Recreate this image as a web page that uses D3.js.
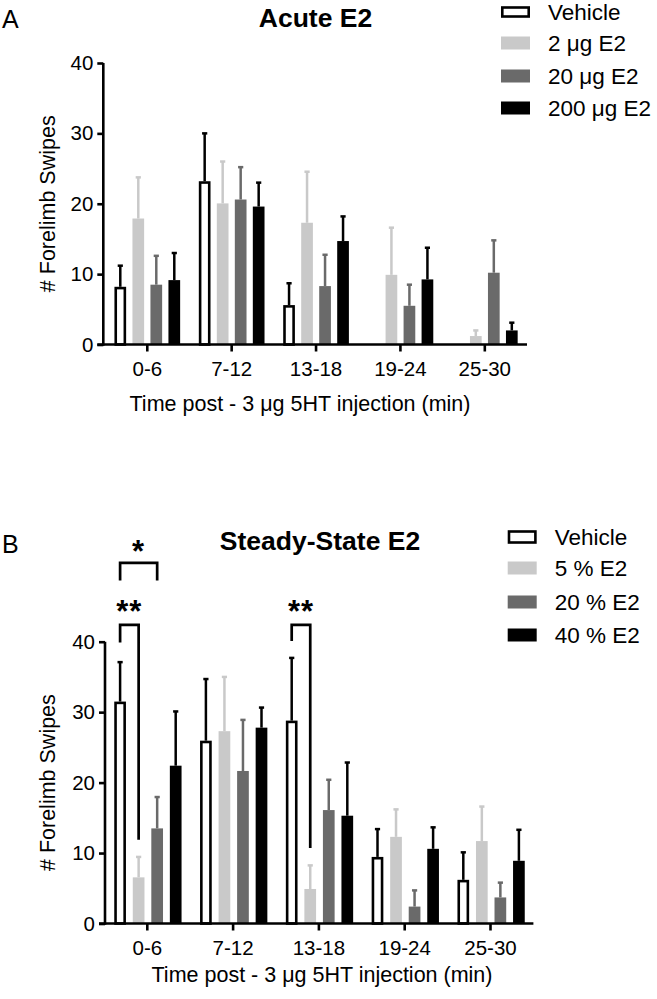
<!DOCTYPE html>
<html lang="en">
<head>
    <meta charset="UTF-8">
    <title>Forelimb Swipes - Acute and Steady-State E2</title>
    <script src="https://d3js.org/d3.v7.min.js"></script>
    <style>
        body {
            margin: 0;
            padding: 0;
            background-color: #fff;
        }

        svg {
            display: block;
            font-family: 'Liberation Sans', Arial, Helvetica, sans-serif;
        }

        .axis path,
        .axis line {
            stroke: #000;
            stroke-width: 2.6;
        }

        .axis text {
            font-size: 20.5px;
            fill: #000;
        }

        .title {
            font-size: 26.5px;
            font-weight: bold;
        }

        .axis-label {
            font-size: 21.5px;
        }

        .legend-text {
            font-size: 22.5px;
        }
    </style>
</head>
<body>
    <svg width="657" height="999"></svg>

    <script>
        // Data
        const timeBins = ["0-6", "7-12", "13-18", "19-24", "25-30"];
        const yTicks = [0, 10, 20, 30, 40];

        // Panel A - acute E2
        const acuteGroups = ["Vehicle", "2 \u03bcg E2", "20 \u03bcg E2", "200 \u03bcg E2"];
        const acuteMeans = [
            [8.2, 23.2, 5.6, 0, 0],
            [17.9, 20.05, 17.3, 9.9, 1.2],
            [8.5, 20.6, 8.3, 5.5, 10.2],
            [9.15, 19.6, 14.7, 9.25, 2.0]
        ];
        const acuteSem = [
            [3.0, 6.8, 3.1, 0, 0],
            [5.85, 5.95, 7.25, 6.7, 0.8],
            [4.1, 4.6, 4.45, 3.0, 4.6],
            [3.85, 3.4, 3.5, 4.5, 1.1]
        ];

        // Panel B - steady-state E2
        const steadyGroups = ["Vehicle", "5 % E2", "20 % E2", "40 % E2"];
        const steadyMeans = [
            [31.5, 25.95, 28.8, 9.45, 6.2],
            [6.55, 27.3, 4.9, 12.3, 11.7],
            [13.5, 21.65, 16.1, 2.4, 3.7],
            [22.4, 27.8, 15.3, 10.6, 8.9]
        ];
        const steadySem = [
            [5.6, 8.75, 8.9, 3.95, 3.9],
            [2.9, 7.7, 3.35, 3.9, 4.9],
            [4.45, 7.25, 4.3, 2.3, 2.1],
            [7.7, 2.85, 7.55, 3.05, 4.4]
        ];

        // Significance brackets: bin, groups joined, bracket level, leg ends (data units)
        const steadySig = [
            { bin: "0-6", from: 0, to: 2, level: 51.2, leftEnd: 48.7, rightEnd: 48.7, label: "*", labelAt: 53.4 },
            { bin: "0-6", from: 0, to: 1, level: 42.4, leftEnd: 39.9, rightEnd: 11.9, label: "**", labelAt: 44.9 },
            { bin: "13-18", from: 0, to: 1, level: 42.4, leftEnd: 40.1, rightEnd: 10.7, label: "**", labelAt: 44.9 }
        ];

        const fills = ["#fff", "#c9c9c9", "#6a6a6a", "#000"];
        const errColors = ["#000", "#c9c9c9", "#6a6a6a", "#000"];

        const svg = d3.select("svg");

        function drawPanel(p) {
            const g = svg.append("g");

            const y = d3.scaleLinear().domain([0, 40]).range([p.y0, p.y40]);
            const x0 = d3.scaleBand().domain(timeBins).range([p.xStart, p.xEnd]);
            const x1 = d3.scalePoint().domain(d3.range(p.groups.length)).range([-p.spread, p.spread]);
            const barW = 11.7;
            const sw = 2.6;

            const rows = timeBins.flatMap((bin, j) => p.groups.map((grp, i) => ({
                bin, i, v: p.means[i][j], e: p.sem[i][j],
                cx: x0(bin) + x0.bandwidth() / 2 + x1(i) + p.shift
            })));

            // error bars (upper only)
            const err = g.append("g").selectAll("g")
                .data(rows.filter(d => d.e > 0))
                .join("g")
                .attr("stroke", d => errColors[d.i])
                .attr("stroke-width", 2.5);
            err.append("line")
                .attr("x1", d => d.cx).attr("x2", d => d.cx)
                .attr("y1", d => y(d.v)).attr("y2", d => y(d.v + d.e));
            err.append("line")
                .attr("x1", d => d.cx - 2.6).attr("x2", d => d.cx + 2.6)
                .attr("y1", d => y(d.v + d.e)).attr("y2", d => y(d.v + d.e));

            // bars
            g.append("g").selectAll("rect")
                .data(rows.filter(d => d.v > 0))
                .join("rect")
                .attr("x", d => d.i === 0 ? d.cx - barW / 2 + sw / 2 : d.cx - barW / 2)
                .attr("width", d => d.i === 0 ? barW - sw : barW)
                .attr("y", d => d.i === 0 ? y(d.v) + sw / 2 : y(d.v))
                .attr("height", d => y(0) - y(d.v) - (d.i === 0 ? sw / 2 : 0))
                .attr("fill", d => fills[d.i])
                .attr("stroke", d => d.i === 0 ? "#000" : "none")
                .attr("stroke-width", sw);

            // y axis
            g.append("g")
                .attr("class", "axis")
                .attr("transform", `translate(${p.yAxisX},0)`)
                .call(d3.axisLeft(y).tickValues(yTicks).tickSize(6).tickPadding(4).tickSizeOuter(0))
                .call(a => a.select(".domain").attr("d", `M0,${y(0) + 1.3}V${y(40)}`));

            // x axis
            g.append("g")
                .attr("class", "axis")
                .attr("transform", `translate(0,${y(0)})`)
                .call(d3.axisBottom(x0).tickSize(7).tickPadding(10).tickSizeOuter(0))
                .call(a => a.select(".domain").attr("d", `M${p.yAxisX - 6},0H${p.xEnd}`));

            // axis titles
            g.append("text")
                .attr("class", "axis-label")
                .attr("transform", `translate(55,${(p.y0 + p.y40) / 2}) rotate(-90)`)
                .attr("text-anchor", "middle")
                .text("# Forelimb Swipes");

            g.append("text")
                .attr("class", "axis-label")
                .attr("x", p.xTitleX)
                .attr("y", p.xTitleY)
                .attr("text-anchor", "middle")
                .text("Time post - 3 \u03bcg 5HT injection (min)");

            // title and panel letter
            g.append("text")
                .attr("class", "title")
                .attr("x", p.titleX)
                .attr("y", p.titleY)
                .attr("text-anchor", "middle")
                .text(p.title);

            g.append("text")
                .attr("x", 2)
                .attr("y", p.letterY)
                .attr("font-size", "25px")
                .text(p.letter);

            // legend
            const leg = g.append("g").selectAll("g")
                .data(p.groups)
                .join("g")
                .attr("transform", (d, i) => `translate(${p.legendX},${p.legendY[i]})`);
            leg.append("rect")
                .attr("x", (d, i) => i === 0 ? 1.3 : 0)
                .attr("y", (d, i) => i === 0 ? -p.vehH / 2 : -6.5)
                .attr("width", (d, i) => i === 0 ? 26.4 : 29)
                .attr("height", (d, i) => i === 0 ? p.vehH : 13)
                .attr("fill", (d, i) => fills[i])
                .attr("stroke", (d, i) => i === 0 ? "#000" : "none")
                .attr("stroke-width", sw);
            leg.append("text")
                .attr("class", "legend-text")
                .attr("x", 47)
                .attr("y", 8)
                .text(d => d);

            // significance brackets
            if (p.sig) {
                const sg = g.append("g").selectAll("g")
                    .data(p.sig)
                    .join("g");
                const xl = d => x0(d.bin) + x0.bandwidth() / 2 + x1(d.from) + p.shift;
                const xr = d => x0(d.bin) + x0.bandwidth() / 2 + x1(d.to) + p.shift;
                sg.append("path")
                    .attr("fill", "none")
                    .attr("stroke", "#000")
                    .attr("stroke-width", 2.7)
                    .attr("d", d => `M${xl(d)},${y(d.leftEnd)}V${y(d.level)}H${xr(d)}V${y(d.rightEnd)}`);
                sg.append("text")
                    .attr("x", d => (xl(d) + xr(d)) / 2)
                    .attr("y", d => y(d.labelAt) + 15)
                    .attr("text-anchor", "middle")
                    .attr("font-size", "31px")
                    .attr("font-weight", "bold")
                    .attr("letter-spacing", "1px")
                    .text(d => d.label);
            }
        }

        drawPanel({
            groups: acuteGroups, means: acuteMeans, sem: acuteSem,
            y0: 344.5, y40: 63, xStart: 105.1, xEnd: 527, yAxisX: 103.3,
            spread: 27, shift: 0,
            title: "Acute E2", titleX: 315.5, titleY: 26.5,
            letter: "A", letterY: 28,
            xTitleX: 300, xTitleY: 411,
            legendX: 501, legendY: [12, 43, 76, 108], vehH: 9
        });

        drawPanel({
            groups: steadyGroups, means: steadyMeans, sem: steadySem, sig: steadySig,
            y0: 923.5, y40: 641.7, xStart: 104.4, xEnd: 533.4, yAxisX: 105,
            spread: 27.8, shift: 0.6,
            title: "Steady-State E2", titleX: 320, titleY: 550,
            letter: "B", letterY: 553,
            xTitleX: 322, xTitleY: 981.5,
            legendX: 507.7, legendY: [537, 568, 602, 635], vehH: 11
        });
    </script>
</body>
</html>
